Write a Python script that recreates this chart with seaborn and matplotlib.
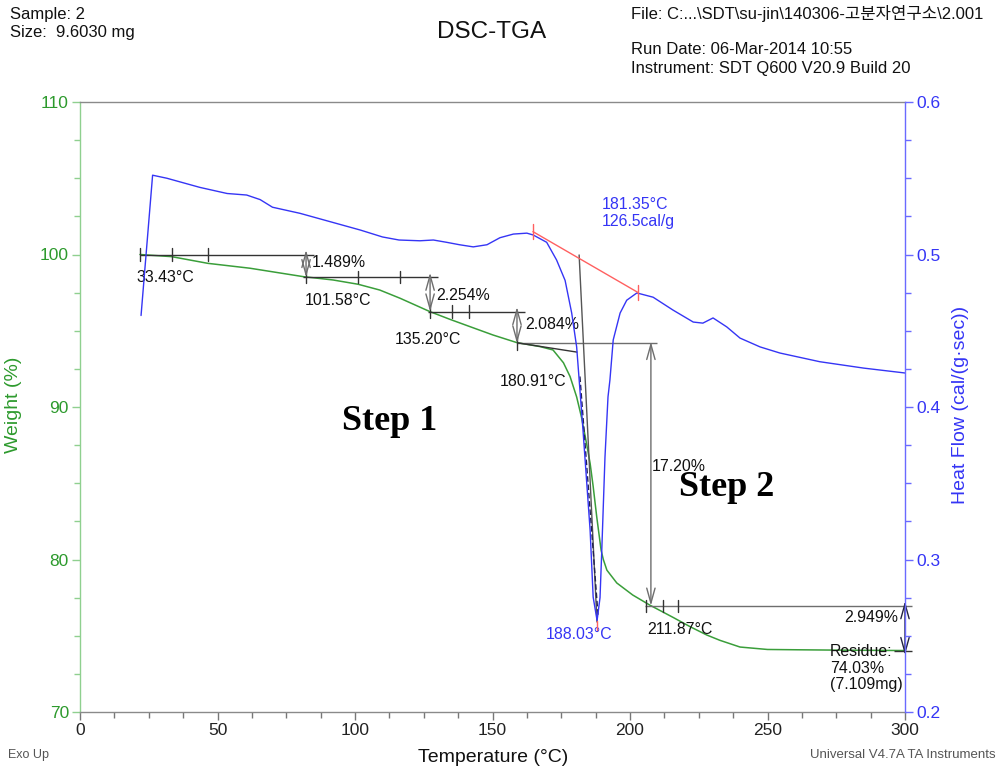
import matplotlib
matplotlib.use("Agg")
import matplotlib.pyplot as plt
import numpy as np
import pandas as pd
import seaborn as sns

# TGA weight trace (temperature in °C, weight in %)
tga_temp = [21.8, 33.3, 46.5, 61.8, 81.1, 92.0, 101.1, 109.0, 116.4, 127.3,
            134.5, 141.8, 150.2, 158.9, 167.3, 172.0, 175.8, 178.2, 180.6, 182.4,
            184.2, 185.5, 186.6, 187.9, 189.5, 190.3, 191.6, 195.2, 201.0, 207.3,
            215.7, 221.8, 227.9, 232.7, 240.0, 250.0, 261.0, 280.0, 300.0]
tga_weight = [100.0, 99.86, 99.42, 99.1, 98.55, 98.33, 98.05, 97.67, 97.13, 96.25,
              95.75, 95.27, 94.72, 94.22, 93.96, 93.74, 92.9, 92.0, 90.66, 89.3,
              87.6, 86.3, 84.8, 82.8, 80.6, 80.0, 79.3, 78.46, 77.67, 77.0,
              76.2, 75.6, 75.05, 74.7, 74.26, 74.1, 74.08, 74.05, 74.03]

# DSC heat-flow trace (temperature in °C, heat flow in cal/(g·sec))
dsc_temp = [22.2, 26.4, 31.6, 43.6, 53.5, 60.6, 65.5, 70.0, 80.0, 92.0,
            102.0, 110.0, 116.0, 123.6, 128.5, 133.3, 138.0, 143.0, 148.0, 152.7,
            157.6, 162.5, 164.8, 169.7, 173.3, 176.4, 178.8, 180.6, 182.9, 185.5,
            186.6, 188.03, 189.1, 189.7, 190.9, 192.0, 192.7, 193.9, 196.4, 198.8,
            202.5, 208.4, 215.6, 223.0, 226.5, 230.2, 235.2, 240.0, 247.3, 254.5,
            269.0, 285.0, 300.0]
dsc_heat = [0.460, 0.552, 0.550, 0.544, 0.540, 0.539, 0.536, 0.531, 0.527, 0.521,
            0.516, 0.5115, 0.5095, 0.509, 0.5095, 0.508, 0.5064, 0.505, 0.5064, 0.511,
            0.5134, 0.514, 0.5128, 0.508, 0.4964, 0.483, 0.4616, 0.4394, 0.385, 0.319,
            0.2754, 0.260, 0.275, 0.304, 0.367, 0.4066, 0.4177, 0.444, 0.4616, 0.470,
            0.4748, 0.472, 0.4636, 0.4557, 0.455, 0.4584, 0.4525, 0.4452, 0.4394, 0.4354,
            0.4297, 0.4255, 0.4223]

# Step analysis: plateau levels (%) and the temperatures of the step limits
step_levels = [100.0, 98.51, 96.26, 94.17, 76.97, 74.03]
step_losses = ["1.489%", "2.254%", "2.084%", "17.20%", "2.949%"]
onset_labels = ["33.43°C", "101.58°C", "135.20°C", "180.91°C", "211.87°C"]
residue_text = "Residue:\n74.03%\n(7.109mg)"

# DSC peak analysis
peak_temp = 188.03
peak_heat = 0.260
peak_label = "188.03°C"
enthalpy_label = "181.35°C\n126.5cal/g"
baseline_temp = [164.7, 203.0]
baseline_heat = [0.515, 0.475]

x_ticks = [0, 50, 100, 150, 200, 250, 300]
w_ticks = [70, 80, 90, 100, 110]
hf_ticks = [0.2, 0.3, 0.4, 0.5, 0.6]

GREEN = "#3a9e3a"
GREEN_TXT = "#2d9a2d"
BLUE = "#3535f5"
RED = "#ff6060"
GREY = "#6e6e6e"
DARK = "#333333"

sns.set_theme(style="white")
plt.rcParams["font.family"] = ["Liberation Sans", "Noto Sans CJK KR", "DejaVu Sans"]

fig = plt.figure(figsize=(9.99, 7.68), dpi=100)
ax = fig.add_axes([80 / 999, 1 - 712 / 768, 825 / 999, 610 / 768])
ax2 = ax.twinx()

tga = pd.DataFrame({"Temperature": tga_temp, "Weight": tga_weight})
dsc = pd.DataFrame({"Temperature": dsc_temp, "HeatFlow": dsc_heat})

sns.lineplot(data=tga, x="Temperature", y="Weight", ax=ax, color=GREEN, lw=1.1,
             estimator=None, sort=False)
sns.lineplot(data=dsc, x="Temperature", y="HeatFlow", ax=ax2, color=BLUE, lw=1.0,
             estimator=None, sort=False)

ax.set_xlim(0, 300)
ax.set_ylim(70, 110)
ax2.set_ylim(0.2, 0.6)

# axes styling
ax.set_xticks(x_ticks)
ax.set_xticks(np.arange(0, 300.1, 12.5), minor=True)
ax.set_yticks(w_ticks)
ax.set_yticks(np.arange(70, 110.1, 2.5), minor=True)
ax2.set_yticks(hf_ticks)
ax2.set_yticks(np.arange(0.2, 0.6001, 0.025), minor=True)
ax2.set_yticklabels([f"{v:.1f}" for v in hf_ticks])

for s in ["top", "bottom"]:
    ax.spines[s].set_color("#8a8a8a")
    ax2.spines[s].set_visible(False)
ax.spines["left"].set_color("#8fd08f")
ax.spines["right"].set_visible(False)
ax2.spines["left"].set_visible(False)
ax2.spines["right"].set_color("#6a6aff")
for s in ax.spines.values():
    s.set_linewidth(1.0)
ax2.spines["right"].set_linewidth(1.0)

tick_fs = 12.5
ax.tick_params(axis="x", which="major", direction="out", length=6, width=1,
               color="#777777", labelsize=tick_fs, labelcolor="#222222", pad=2, bottom=True)
ax.tick_params(axis="x", which="minor", direction="out", length=4, width=1,
               color="#777777", bottom=True)
ax.tick_params(axis="y", which="major", direction="out", length=6, width=1,
               color="#8fd08f", labelsize=tick_fs, labelcolor=GREEN_TXT, pad=2, left=True)
ax.tick_params(axis="y", which="minor", direction="out", length=4, width=1,
               color="#8fd08f", left=True)
ax2.tick_params(axis="y", which="major", direction="out", length=6, width=1,
                color="#6a6aff", labelsize=tick_fs, labelcolor=BLUE, pad=2, right=True)
ax2.tick_params(axis="y", which="minor", direction="out", length=4, width=1,
                color="#6a6aff", right=True)

ax.set_xlabel("Temperature (°C)", fontsize=14, color="#111111")
ax.xaxis.set_label_coords(0.5006, -0.0607)
ax.set_ylabel("Weight (%)", fontsize=14, color=GREEN_TXT)
ax.yaxis.set_label_coords(-0.0703, 0.503)
ax2.set_ylabel("Heat Flow (cal/(g·sec))", fontsize=14, color=BLUE)
ax2.yaxis.set_label_coords(1.057, 0.503)


def hline(y, x0, x1, color=DARK, lw=1.0, axis=ax, **kw):
    axis.plot([x0, x1], [y, y], color=color, lw=lw, solid_capstyle="butt", **kw)


def vtick(x, y, h=0.4, color=DARK, axis=ax):
    axis.plot([x, x], [y - h, y + h], color=color, lw=1.0)


def bracket(x, y_top, y_bot, color=GREY):
    ax.annotate("", xy=(x, y_bot), xytext=(x, y_top),
                arrowprops=dict(arrowstyle="<->,head_length=0.9,head_width=0.25",
                                color=color, lw=1.0, shrinkA=0, shrinkB=0),
                annotation_clip=False)


# step plateaus with their tick marks
hline(step_levels[0], 21.8, 85.0)
for t in [21.8, 33.4, 46.5]:
    vtick(t, step_levels[0])
hline(step_levels[1], 81.0, 130.0)
for t in [82.2, 101.0, 116.4]:
    vtick(t, step_levels[1])
hline(step_levels[2], 126.5, 161.8)
for t in [127.3, 135.3, 141.5]:
    vtick(t, step_levels[2])
hline(step_levels[3], 158.9, 209.8, color=GREY)
vtick(158.9, step_levels[3])
hline(step_levels[4], 205.5, 302.5, color=GREY, clip_on=False)
for t in [205.9, 211.9, 217.3]:
    vtick(t, step_levels[4])
hline(step_levels[5], 296.0, 302.5, clip_on=False)

# weight-loss brackets
bracket(82.2, step_levels[0] + 0.3, step_levels[1], color=GREY)
bracket(127.3, step_levels[1] + 0.3, step_levels[2], color=GREY)
bracket(158.9, step_levels[2] + 0.3, step_levels[3], color=GREY)
bracket(207.6, step_levels[3] + 0.1, step_levels[4], color=GREY)
bracket(300.0, step_levels[4] + 0.3, step_levels[5] - 0.3, color="#222244")

# onset tangents
ax.plot([159.3, 180.7], [94.2, 93.6], color=DARK, lw=1.0)
ax.plot([181.5, 188.0], [99.97, 75.9], color="#555555", lw=1.0)
ax.plot([181.8, 188.4], [92.0, 76.3], color="#202050", lw=1.0, ls=(0, (4, 2)))

# DSC peak integration baseline and peak marker
ax2.plot(baseline_temp, baseline_heat, color=RED, lw=1.0)
for t, h in zip(baseline_temp, baseline_heat):
    vtick(t, h, h=0.005, color=RED, axis=ax2)
ax2.plot([peak_temp, peak_temp], [peak_heat, peak_heat - 0.006], color=RED, lw=1.0)

# step annotations
fs = 11.4
ax.text(20.7, 98.46, onset_labels[0], fontsize=fs, color="#111111", ha="left", va="center")
ax.text(84.4, 99.5, step_losses[0], fontsize=fs, color="#111111", ha="left", va="center")
ax.text(81.8, 97.0, onset_labels[1], fontsize=fs, color="#111111", ha="left", va="center")
ax.text(129.5, 97.34, step_losses[1], fontsize=fs, color="#111111", ha="left", va="center")
ax.text(114.5, 94.4, onset_labels[2], fontsize=fs, color="#111111", ha="left", va="center")
ax.text(161.8, 95.38, step_losses[2], fontsize=fs, color="#111111", ha="left", va="center")
ax.text(152.7, 91.7, onset_labels[3], fontsize=fs, color="#111111", ha="left", va="center")
ax.text(208.0, 86.1, step_losses[3], fontsize=fs, color="#111111", ha="left", va="center")
ax.text(206.2, 75.4, onset_labels[4], fontsize=fs, color="#111111", ha="left", va="center")
ax.text(297.5, 76.2, step_losses[4], fontsize=fs, color="#111111", ha="right", va="center")
ax.text(272.7, 74.45, residue_text, fontsize=fs, color="#111111", ha="left", va="top",
        linespacing=1.12)
ax.text(181.5, 75.1, peak_label, fontsize=fs, color=BLUE, ha="center", va="center")
ax.text(189.8, 103.75, enthalpy_label, fontsize=fs, color=BLUE, ha="left", va="top",
        linespacing=1.12)

ax.text(112.7, 89.05, "Step 1", fontsize=26, fontweight="bold", color="black",
        family="Liberation Serif", ha="center", va="center")
ax.text(235.3, 84.75, "Step 2", fontsize=26, fontweight="bold", color="black",
        family="Liberation Serif", ha="center", va="center")

# header and footer
def ftext(px, py, s, **kw):
    fig.text(px / 999, 1 - py / 768, s, **kw)

hdr = 12
ftext(10, 14, "Sample: 2", fontsize=hdr, color="#111111", ha="left", va="center")
ftext(10, 32, "Size:  9.6030 mg", fontsize=hdr, color="#111111", ha="left", va="center")
ftext(492, 32, "DSC-TGA", fontsize=17.5, color="#111111", ha="center", va="center")
ftext(631, 14, r"File: C:...\SDT\su-jin\140306-고분자연구소\2.001", fontsize=hdr,
      color="#111111", ha="left", va="center")
ftext(631, 49, "Run Date: 06-Mar-2014 10:55", fontsize=hdr, color="#111111",
      ha="left", va="center")
ftext(631, 69, "Instrument: SDT Q600 V20.9 Build 20", fontsize=hdr, color="#111111",
      ha="left", va="center")
ftext(8, 755, "Exo Up", fontsize=9, color="#555555", ha="left", va="center")
ftext(996, 755, "Universal V4.7A TA Instruments", fontsize=9.5, color="#555555",
      ha="right", va="center")

fig.savefig("out.png", dpi=100)
